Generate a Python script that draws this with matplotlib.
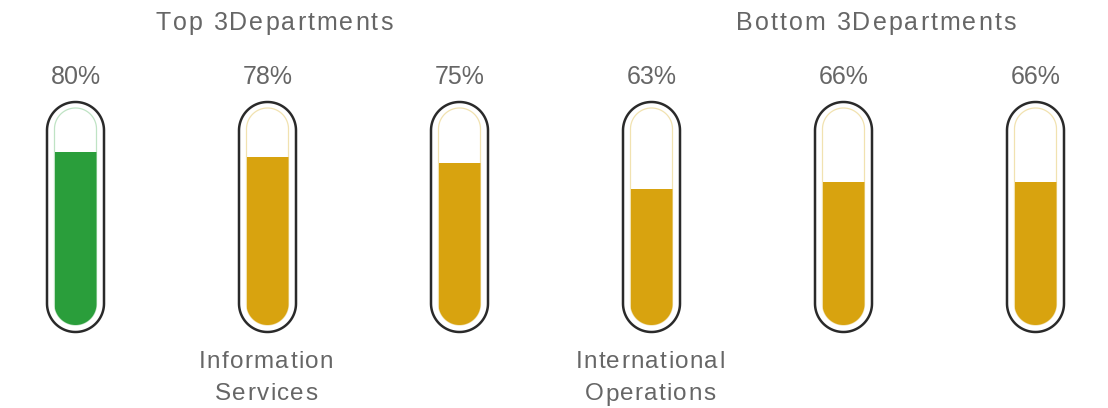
import matplotlib
matplotlib.use("Agg")
import numpy as np
import matplotlib.pyplot as plt
from matplotlib.patches import PathPatch
from matplotlib.path import Path
from matplotlib.font_manager import FontProperties, findfont, get_font

# ---- data ----
values = [80, 78, 75, 63, 66, 66]
value_labels = ["80%", "78%", "75%", "63%", "66%", "66%"]
group_titles = ["Top 3Departments", "Bottom 3Departments"]
dept_labels = ["", "Information\nServices", "", "International\nOperations", "", ""]
fill_colors = ["#2a9e3b", "#d8a30f", "#d8a30f", "#d8a30f", "#d8a30f", "#d8a30f"]
tint_colors = ["#bfe3c4", "#f1e2b0", "#f1e2b0", "#f1e2b0", "#f1e2b0", "#f1e2b0"]

W, H = 1108, 408
fig = plt.figure(figsize=(W / 100, H / 100), dpi=100)
ax = fig.add_axes([0, 0, 1, 1])
ax.set_xlim(0, W)
ax.set_ylim(H, 0)
ax.axis("off")

TEXT = "#666666"
FAMILY = "Liberation Sans"


def spaced_text(cx, y, s, size, spacing, color=TEXT):
    fp = FontProperties(family=FAMILY, size=size)
    font = get_font(findfont(fp))
    font.set_size(size, 100)
    adv = []
    for ch in s:
        g = font.load_char(ord(ch))
        adv.append(g.linearHoriAdvance / 65536.0)
    total = sum(adv) + spacing * (len(s) - 1)
    x = cx - total / 2.0
    for ch, a in zip(s, adv):
        if ch != " ":
            ax.text(x, y, ch, fontproperties=fp, color=color,
                    ha="left", va="baseline")
        x += a + spacing


def capsule_path(cx, top, bot, w):
    r = w / 2.0
    t1 = np.linspace(np.pi, 2 * np.pi, 60)   # top arc (y inverted axis)
    t2 = np.linspace(0, np.pi, 60)           # bottom arc
    xs = np.concatenate([cx + r * np.cos(t1), cx + r * np.cos(t2)])
    ys = np.concatenate([top + r + r * np.sin(t1), bot - r + r * np.sin(t2)])
    verts = np.column_stack([xs, ys])
    verts = np.vstack([verts, verts[:1]])
    codes = [Path.MOVETO] + [Path.LINETO] * (len(verts) - 2) + [Path.CLOSEPOLY]
    return Path(verts, codes)


# geometry
x0, step = 75.5, 192
outer_w, outer_top, outer_bot = 57, 102, 332
inner_w, inner_top, inner_bot = 42, 108, 325
span = 216.0  # pixels for 100%

for i, v in enumerate(values):
    cx = x0 + i * step
    outer = PathPatch(capsule_path(cx, outer_top, outer_bot, outer_w),
                      facecolor="white", edgecolor="#2a2a2a",
                      linewidth=1.8, zorder=1)
    ax.add_patch(outer)
    inner = PathPatch(capsule_path(cx, inner_top, inner_bot, inner_w),
                      facecolor="white", edgecolor=tint_colors[i],
                      linewidth=0.9, zorder=2)
    ax.add_patch(inner)
    bars = ax.bar(cx, -v * span / 100.0, bottom=inner_bot, width=inner_w,
                  color=fill_colors[i], zorder=3, linewidth=0)
    for b in bars:
        b.set_clip_path(inner)
    ax.text(cx, 84, value_labels[i], fontsize=18, family=FAMILY,
            color=TEXT, ha="center", va="baseline")
    if dept_labels[i]:
        lines = dept_labels[i].split("\n")
        for j, ln in enumerate(lines):
            spaced_text(cx - 1.5, 367.5 + j * 33, ln, 17.5, 1.3)

spaced_text(274, 30, group_titles[0], 18, 2.0)
spaced_text(876, 30, group_titles[1], 18, 2.0)

fig.savefig("out.png", dpi=100, facecolor="white")
